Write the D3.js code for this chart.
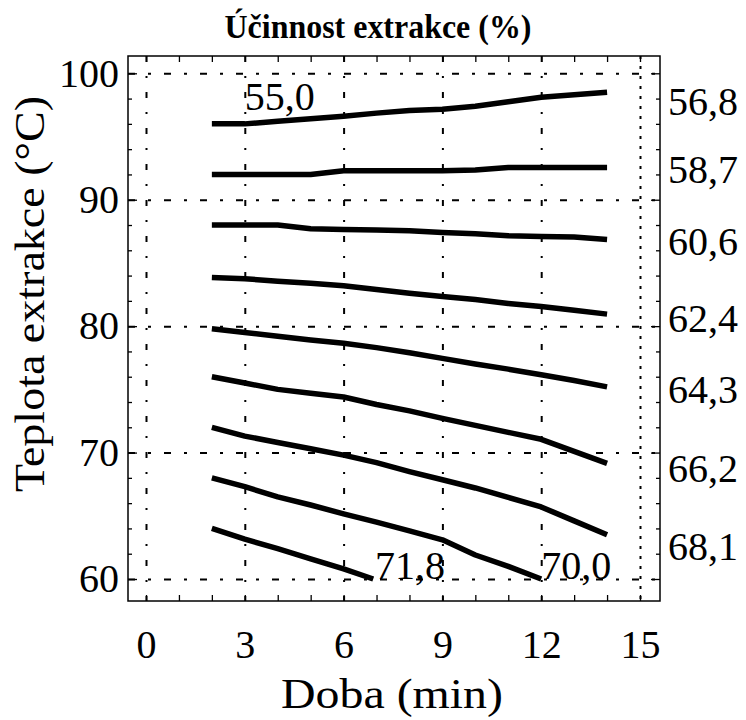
<!DOCTYPE html>
<html>
<head>
<meta charset="utf-8">
<script src="https://cdn.jsdelivr.net/npm/d3@7"></script>
<style>
  body { margin: 0; background: #fff; }
  svg { display: block; }
  text { font-family: 'Times New Roman', 'Liberation Serif', serif; fill: #000; }
  .axis path { stroke: none; }
  .axis line { stroke: #000; stroke-width: 1.3; }
  .axis text { font-size: 40px; }
  .grid path { stroke: none; }
  .grid line { stroke: #000; stroke-width: 2; }
  .contour { fill: none; stroke: #000; stroke-width: 5.5; stroke-linejoin: round; }
</style>
</head>
<body>
<svg id="chart"></svg>
<script>
const title = 'Účinnost extrakce (%)'
const xTitle = 'Doba (min)'
const yTitle = 'Teplota extrakce (°C)'

const xTicks = [0, 3, 6, 9, 12, 15]
const yTicks = [60, 70, 80, 90, 100]

// contour lines, x = doba (min), y = teplota (°C)
const times = [2, 3, 4, 5, 6, 7, 8, 9, 10, 11, 12, 13, 14]
const timesShort = [2, 3, 4, 5, 6, 7, 8, 9, 10, 11, 12]
const timesShortest = [2, 3, 4, 5, 6, 6.9]

const line1 = [96.0, 96.0, 96.2, 96.4, 96.6, 96.85, 97.05, 97.15, 97.4, 97.75, 98.1, 98.3, 98.5]
const line2 = [92.0, 92.0, 92.0, 92.0, 92.3, 92.3, 92.3, 92.3, 92.35, 92.55, 92.55, 92.55, 92.55]
const line3 = [88.0, 88.0, 88.0, 87.7, 87.65, 87.6, 87.55, 87.4, 87.3, 87.15, 87.1, 87.05, 86.85]
const line4 = [83.85, 83.75, 83.55, 83.4, 83.2, 82.9, 82.6, 82.35, 82.1, 81.8, 81.55, 81.25, 80.95]
const line5 = [79.8, 79.5, 79.2, 78.9, 78.65, 78.3, 77.9, 77.45, 77.0, 76.6, 76.15, 75.7, 75.2]
const line6 = [76.0, 75.5, 75.0, 74.7, 74.4, 73.8, 73.3, 72.7, 72.15, 71.6, 71.05, 70.1, 69.15]
const line7 = [72.0, 71.3, 70.8, 70.3, 69.8, 69.2, 68.5, 67.85, 67.2, 66.45, 65.7, 64.6, 63.5]
const line8 = [68.0, 67.3, 66.5, 65.85, 65.15, 64.5, 63.8, 63.1, 61.9, 61.0, 60.0]
const line9 = [64.0, 63.15, 62.4, 61.6, 60.8, 60.0]

// labels inside the plot (text, doba, teplota at baseline)
const innerLabels = ['55,0', '71,8', '70,0']
const innerLabelX = [3.0, 6.95, 12.0]
const innerLabelY = [97.1, 60.0, 60.0]

// level labels on the right side (baseline teplota)
const sideLabels = ['56,8', '58,7', '60,6', '62,4', '64,3', '66,2', '68,1']
const sideLabelY = [96.7, 91.3, 85.6, 79.5, 73.9, 67.7, 61.5]

const width = 746
const height = 720
const frame = { left: 128, right: 660, top: 56, bottom: 601 }

const svg = d3.select('#chart')
  .attr('width', width)
  .attr('height', height)

const x = d3.scaleLinear().domain([0, 15]).range([146, 640])
const y = d3.scaleLinear().domain([60, 100]).range([579, 73.3])

const minorX = d3.range(0, 16, 1)
const minorY = d3.range(60, 101, 2)

// grid
svg.append('g')
  .attr('class', 'grid')
  .attr('transform', `translate(0, ${frame.top})`)
  .call(d3.axisBottom(x).tickValues(xTicks.slice(0, -1)).tickSize(frame.bottom - frame.top).tickFormat(''))
  .selectAll('line')
  .attr('stroke-dasharray', '6,14,2,14')

svg.append('g')
  .attr('class', 'grid')
  .attr('transform', `translate(0, ${frame.top})`)
  .call(d3.axisBottom(x).tickValues([15]).tickSize(frame.bottom - frame.top).tickFormat(''))
  .selectAll('line')
  .attr('stroke-width', 2.2)
  .attr('stroke-dasharray', '3,7')

svg.append('g')
  .attr('class', 'grid')
  .attr('transform', `translate(${frame.left}, 0)`)
  .call(d3.axisRight(y).tickValues(yTicks).tickSize(frame.right - frame.left).tickFormat(''))
  .selectAll('line')
  .attr('stroke-dasharray', '7,13,3,13')

// frame
svg.append('rect')
  .attr('x', frame.left)
  .attr('y', frame.top)
  .attr('width', frame.right - frame.left)
  .attr('height', frame.bottom - frame.top)
  .attr('fill', 'none')
  .attr('stroke', '#000')
  .attr('stroke-width', 1.5)

// axes
svg.append('g')
  .attr('class', 'axis')
  .attr('transform', `translate(0, ${frame.bottom})`)
  .call(d3.axisBottom(x).tickValues(minorX).tickSize(-6).tickPadding(29)
    .tickFormat(d => xTicks.includes(d) ? d : ''))

svg.append('g')
  .attr('class', 'axis')
  .attr('transform', `translate(0, ${frame.top})`)
  .call(d3.axisTop(x).tickValues(minorX).tickSize(-6).tickFormat(''))

svg.append('g')
  .attr('class', 'axis')
  .attr('transform', `translate(${frame.left}, 0)`)
  .call(d3.axisLeft(y).tickValues(minorY).tickSize(-4).tickPadding(9)
    .tickFormat(d => yTicks.includes(d) ? d : ''))
  .selectAll('line')
  .attr('x2', d => yTicks.includes(d) ? 9 : 4)

svg.append('g')
  .attr('class', 'axis')
  .attr('transform', `translate(${frame.right}, 0)`)
  .call(d3.axisRight(y).tickValues(minorY).tickSize(-4).tickFormat(''))
  .selectAll('line')
  .attr('x2', d => yTicks.includes(d) ? -9 : -4)

// contour lines
const series = [
  [times, line1], [times, line2], [times, line3], [times, line4], [times, line5],
  [times, line6], [times, line7], [timesShort, line8], [timesShortest, line9]
]

const line = d3.line()
  .x(d => x(d[0]))
  .y(d => y(d[1]))

svg.append('g')
  .selectAll('path')
  .data(series)
  .join('path')
  .attr('class', 'contour')
  .attr('d', ([t, v]) => line(t.map((d, i) => [d, v[i]])))

// labels
svg.append('g')
  .selectAll('text')
  .data(innerLabels)
  .join('text')
  .attr('x', (d, i) => x(innerLabelX[i]))
  .attr('y', (d, i) => y(innerLabelY[i]))
  .attr('font-size', 40)
  .text(d => d)

svg.append('g')
  .selectAll('text')
  .data(sideLabels)
  .join('text')
  .attr('x', frame.right + 8)
  .attr('y', (d, i) => y(sideLabelY[i]))
  .attr('font-size', 40)
  .text(d => d)

// titles
svg.append('text')
  .attr('x', 378)
  .attr('y', 38)
  .attr('text-anchor', 'middle')
  .attr('font-size', 34)
  .attr('font-weight', 'bold')
  .attr('textLength', 307)
  .attr('lengthAdjust', 'spacingAndGlyphs')
  .text(title)

svg.append('text')
  .attr('x', 392)
  .attr('y', 708)
  .attr('text-anchor', 'middle')
  .attr('font-size', 43)
  .attr('textLength', 222)
  .attr('lengthAdjust', 'spacingAndGlyphs')
  .text(xTitle)

svg.append('text')
  .attr('transform', 'translate(44, 294) rotate(-90)')
  .attr('text-anchor', 'middle')
  .attr('font-size', 42)
  .attr('textLength', 396)
  .attr('lengthAdjust', 'spacingAndGlyphs')
  .text(yTitle)
</script>
</body>
</html>
